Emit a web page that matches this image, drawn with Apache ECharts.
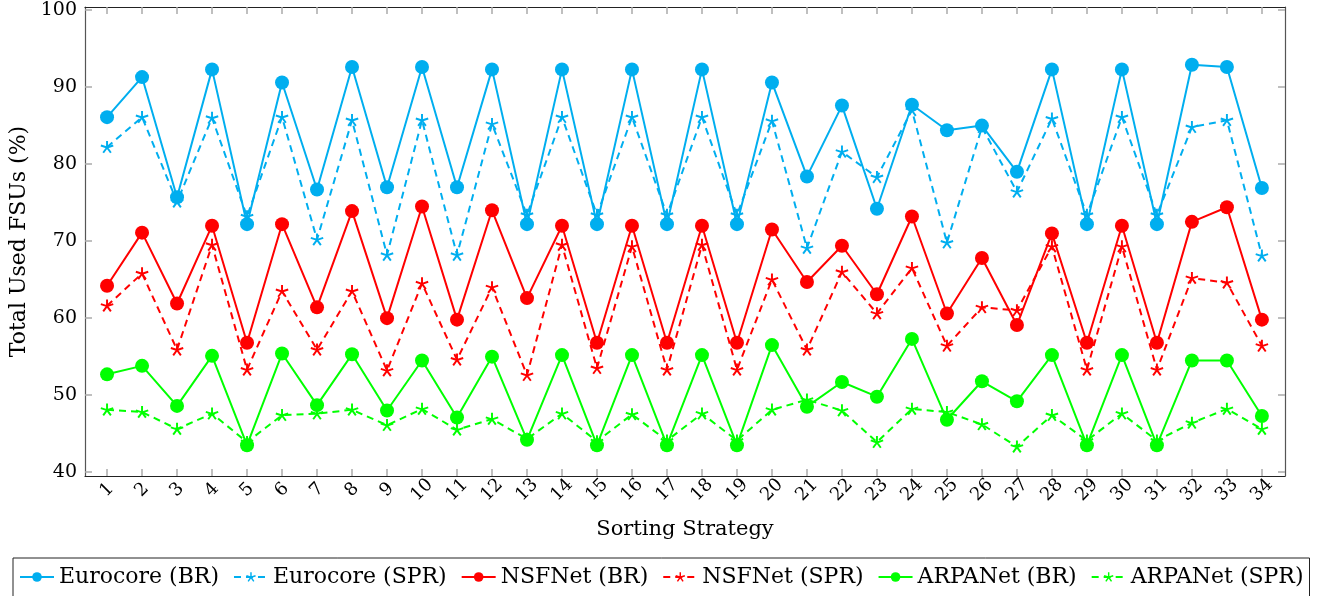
<!DOCTYPE html>
<html>
<head>
<meta charset="utf-8">
<script src="https://cdn.jsdelivr.net/npm/echarts@6/dist/echarts.min.js"></script>
<style>html,body{margin:0;padding:0;background:#fff;}#c{width:1319px;height:596px;}</style>
</head>
<body>
<div id="c"></div>
<script>
const categories = ['1','2','3','4','5','6','7','8','9','10','11','12','13','14','15','16','17','18','19','20','21','22','23','24','25','26','27','28','29','30','31','32','33','34'];
const yTicks = [40, 50, 60, 70, 80, 90, 100];
const eurocoreBR = [86.1,91.3,75.7,92.3,72.2,90.6,76.7,92.6,77.0,92.6,77.0,92.3,72.2,92.3,72.2,92.3,72.2,92.3,72.2,90.6,78.4,87.6,74.2,87.7,84.4,85.0,79.0,92.3,72.2,92.3,72.2,92.9,92.6,76.9];
const eurocoreSPR = [82.2,86.1,75.1,86.0,73.2,86.1,70.2,85.7,68.2,85.7,68.2,85.2,73.4,86.1,73.4,86.1,73.4,86.1,73.4,85.6,69.1,81.6,78.3,87.0,69.8,84.8,76.4,85.9,73.4,86.1,73.4,84.8,85.7,68.1];
const nsfnetBR = [64.2,71.1,61.9,72.0,56.8,72.2,61.4,73.9,60.0,74.5,59.8,74.0,62.6,72.0,56.8,72.0,56.8,72.0,56.8,71.5,64.7,69.4,63.1,73.2,60.6,67.8,59.1,71.0,56.8,72.0,56.8,72.5,74.4,59.8];
const nsfnetSPR = [61.6,65.8,55.9,69.5,53.3,63.5,55.9,63.5,53.2,64.5,54.6,64.0,52.6,69.5,53.5,69.3,53.3,69.5,53.3,65.0,55.9,66.0,60.6,66.5,56.4,61.4,61.0,69.3,53.3,69.3,53.3,65.2,64.6,56.4];
const arpanetBR = [52.7,53.8,48.6,55.1,43.5,55.4,48.7,55.3,48.0,54.5,47.1,55.0,44.2,55.2,43.5,55.2,43.5,55.2,43.5,56.5,48.5,51.7,49.8,57.3,46.8,51.8,49.2,55.2,43.5,55.2,43.5,54.5,54.5,47.3];
const arpanetSPR = [48.1,47.8,45.6,47.6,43.9,47.4,47.6,48.1,46.1,48.2,45.5,46.9,44.3,47.6,44.0,47.5,44.1,47.6,44.1,48.1,49.4,48.0,43.9,48.2,47.8,46.2,43.3,47.4,44.1,47.6,44.1,46.4,48.2,45.6];

function starPath() {
  const hw = 0.15; let s = '';
  for (let k = 0; k < 5; k++) {
    const a = -Math.PI / 2 + k * 2 * Math.PI / 5;
    const dx = Math.cos(a), dy = Math.sin(a);
    const px = -dy * hw, py = dx * hw;
    const pts = [[px, py], [dx + px, dy + py], [dx - px, dy - py], [-px, -py]];
    s += 'M' + pts.map(p => ((p[0] + 1) * 50).toFixed(2) + ' ' + ((p[1] + 1) * 50).toFixed(2)).join(' L') + ' Z ';
  }
  return 'path://' + s;
}
const STAR = starPath();
const BLUE = '#00AEEF', RED = '#FF0000', GREEN = '#00FF00';
const xVals = categories.map((c, i) => i + 1);
const pts = arr => arr.map((v, i) => [xVals[i], v]);
const FONT = 'DejaVu Serif';

function mk(name, data, color, dashed) {
  return {
    name, type: 'line', data: pts(data),
    xAxisIndex: 0, yAxisIndex: 0,
    symbol: dashed ? STAR : 'circle',
    symbolSize: dashed ? 13 : 14,
    symbolKeepAspect: true,
    showAllSymbol: true,
    lineStyle: { color, width: 2, type: dashed ? [7, 5] : 'solid' },
    itemStyle: { color, borderWidth: 0 },
    emphasis: { disabled: true },
    animation: false
  };
}

const chart = echarts.init(document.getElementById('c'));
const xBase = {
  type: 'value', min: 0.37, max: 34.66,
  splitLine: { show: false },
  axisLine: { show: true, onZero: false, lineStyle: { color: '#222', width: 1.2 } },
  axisTick: { show: true, inside: true, length: 7, customValues: xVals, lineStyle: { color: '#aaa', width: 1.5 } },
};
const yBase = {
  type: 'value', min: 39.5, max: 100.4,
  splitLine: { show: false },
  axisLine: { show: true, onZero: false, lineStyle: { color: '#555', width: 1.2 } },
  axisTick: { show: true, inside: true, length: 7, customValues: yTicks, lineStyle: { color: '#aaa', width: 1.5 } },
};
chart.setOption({
  backgroundColor: '#fff',
  animation: false,
  grid: { left: 85, right: 34, top: 7, bottom: 120, show: false, containLabel: false, outerBoundsMode: 'none' },
  legend: {
    left: 13, top: 558,
    padding: [8, 6, 12, 6],
    borderColor: '#222', borderWidth: 1,
    itemGap: 14, itemWidth: 34, itemHeight: 12,
    textStyle: { fontFamily: FONT, fontSize: 22, color: '#000' },
    data: ['Eurocore (BR)', 'Eurocore (SPR)', 'NSFNet (BR)', 'NSFNet (SPR)', 'ARPANet (BR)', 'ARPANet (SPR)']
  },
  xAxis: [
    Object.assign({}, xBase, {
      position: 'bottom',
      name: 'Sorting Strategy', nameLocation: 'middle', nameGap: 43,
      nameTextStyle: { fontFamily: FONT, fontSize: 21, color: '#000' },
      axisLabel: { show: true, rotate: 45, align: 'center', margin: 14, customValues: xVals, fontFamily: FONT, fontSize: 18, color: '#000',
        formatter: v => categories[Math.round(v) - 1] || '' }
    }),
    Object.assign({}, xBase, { position: 'top', axisLabel: { show: false } })
  ],
  yAxis: [
    Object.assign({}, yBase, {
      position: 'left',
      name: 'Total Used FSUs (%)', nameLocation: 'middle', nameGap: 55,
      nameTextStyle: { fontFamily: FONT, fontSize: 22, color: '#000' },
      axisLabel: { show: true, margin: 8, customValues: yTicks, fontFamily: FONT, fontSize: 19, color: '#000' }
    }),
    Object.assign({}, yBase, { position: 'right', axisLabel: { show: false } })
  ],
  series: [
    mk('Eurocore (BR)', eurocoreBR, BLUE, false),
    mk('Eurocore (SPR)', eurocoreSPR, BLUE, true),
    mk('NSFNet (BR)', nsfnetBR, RED, false),
    mk('NSFNet (SPR)', nsfnetSPR, RED, true),
    mk('ARPANet (BR)', arpanetBR, GREEN, false),
    mk('ARPANet (SPR)', arpanetSPR, GREEN, true)
  ]
});
</script>
</body>
</html>
